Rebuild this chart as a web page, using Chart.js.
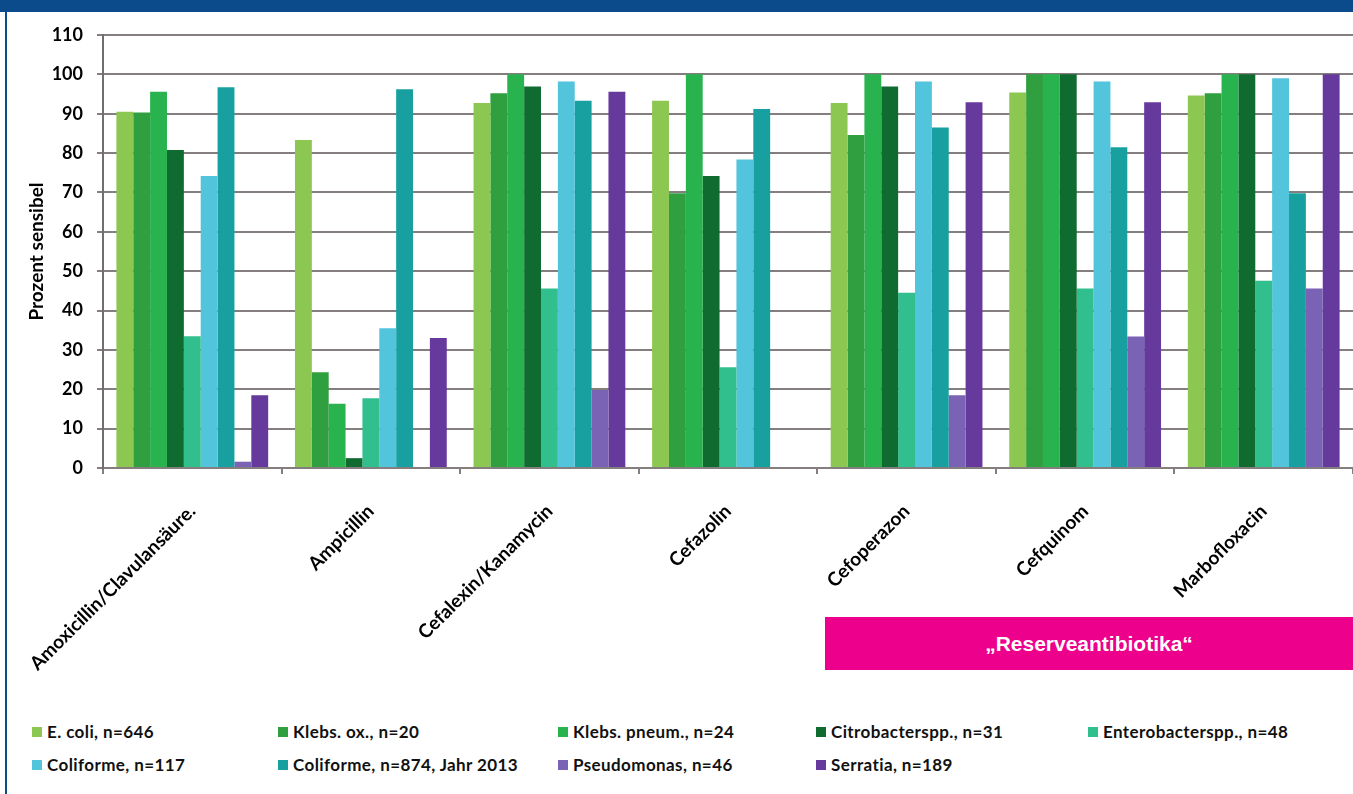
<!DOCTYPE html>
<html>
<head>
<meta charset="utf-8">
<script src="https://cdn.jsdelivr.net/npm/chart.js@4.4.0/dist/chart.umd.min.js"></script>
<style>
  body { margin: 0; width: 1353px; height: 794px; overflow: hidden; background: #fff; position: relative; font-family: Lato, sans-serif; }
  #band { position: absolute; left: 0; top: 0; width: 1353px; height: 12px; background: #0b4a8b; }
  #frame { position: absolute; left: 5px; top: 0; width: 2px; height: 794px; background: #0b4a8b; }
  #chart { position: absolute; left: 0; top: 0; }
  #reserve { position: absolute; left: 825px; top: 617px; width: 528px; height: 53px; background: #ec008c; color: #fff;
             font: bold 21px "Liberation Sans", Arial, sans-serif; display: flex; align-items: center; justify-content: center; }
  .leg { position: absolute; font: bold 17px Lato, sans-serif; letter-spacing: 0.4px; color: #111; white-space: nowrap; line-height: 20px; }
  .leg i { position: absolute; left: -15px; top: 5px; width: 10px; height: 10px; }
</style>
</head>
<body>
<div id="band"></div>
<div id="frame"></div>
<canvas id="chart" width="1353" height="690"></canvas>
<div id="reserve">„Reserveantibiotika“</div>
<div id="legend"></div>
<script>
const categories = ['Amoxicillin/Clavulansäure.', 'Ampicillin', 'Cefalexin/Kanamycin', 'Cefazolin',
    'Cefoperazon', 'Cefquinom', 'Marbofloxacin'];

const eColi        = [90.5, 83.3, 92.7, 93.3, 92.7, 95.4, 94.6];
const klebsOx      = [90.3, 24.3, 95.2, 69.8, 84.6, 100, 95.2];
const klebsPneum   = [95.6, 16.3, 100, 100, 100, 100, 100];
const citrobacter  = [80.8, 2.5, 96.9, 74.2, 96.9, 100, 100];
const enterobacter = [33.5, 17.7, 45.6, 25.6, 44.5, 45.6, 47.6];
const coliforme    = [74.2, 35.5, 98.2, 78.4, 98.2, 98.2, 99];
const coliforme13  = [96.7, 96.2, 93.3, 91.2, 86.5, 81.5, 69.8];
const pseudomonas  = [1.6, 0, 19.8, 0, 18.5, 33.4, 45.6];
const serratia     = [18.5, 33, 95.6, 0, 92.9, 92.9, 100];

const seriesNames = ['E. coli, n=646', 'Klebs. ox., n=20', 'Klebs. pneum., n=24', 'Citrobacterspp., n=31',
    'Enterobacterspp., n=48', 'Coliforme, n=117', 'Coliforme, n=874, Jahr 2013', 'Pseudomonas, n=46', 'Serratia, n=189'];
const seriesColors = ['#8cc751', '#2f9f3f', '#28b34f', '#0f6b30', '#31bf8e', '#52c4dc', '#17a09f', '#7a63b5', '#66399c'];
const seriesValues = [eColi, klebsOx, klebsPneum, citrobacter, enterobacter, coliforme, coliforme13, pseudomonas, serratia];

const yTicks = [0, 10, 20, 30, 40, 50, 60, 70, 80, 90, 100, 110];

// legend grid: 5 columns, two rows
const legendCols = [47, 293, 573, 831, 1103];
const legendRows = [722, 755];
const legendBox = document.getElementById('legend');
seriesNames.forEach(function(name, i) {
    const item = document.createElement('div');
    item.className = 'leg';
    item.style.left = legendCols[i % 5] + 'px';
    item.style.top = legendRows[Math.floor(i / 5)] + 'px';
    item.innerHTML = '<i style="background:' + seriesColors[i] + '"></i>' + name;
    legendBox.appendChild(item);
});

const gridGray = '#857e7e';

var ctx = document.getElementById('chart').getContext('2d');
var chart = new Chart(ctx, {
    type: 'bar',
    data: {
        labels: categories,
        datasets: seriesValues.map(function(values, i) {
            return {
                label: seriesNames[i],
                data: values,
                backgroundColor: seriesColors[i],
                borderWidth: 0,
                categoryPercentage: 0.85,
                barPercentage: 1.0
            };
        })
    },
    options: {
        responsive: false,
        animation: false,
        devicePixelRatio: 1,
        layout: { padding: { top: 35, left: 0, right: 0, bottom: 0 } },
        plugins: {
            legend: { display: false },
            tooltip: { enabled: false }
        },
        scales: {
            x: {
                afterFit: function(scale) { scale.height = 222; },
                grid: { display: true, drawOnChartArea: false, drawTicks: true, tickLength: 6, color: gridGray, lineWidth: 2, offset: true },
                border: { color: gridGray, width: 2 },
                ticks: { minRotation: 45, maxRotation: 45, autoSkip: false, padding: 26, color: '#000',
                         font: { family: 'Lato', weight: 'bold', size: 19 } }
            },
            y: {
                min: 0,
                max: 110,
                afterFit: function(scale) { scale.width = 103; },
                afterBuildTicks: function(scale) { scale.ticks = yTicks.map(function(v) { return { value: v }; }); },
                grid: { color: gridGray, lineWidth: 2, tickLength: 6 },
                border: { color: '#6f6f6f', width: 2 },
                ticks: { padding: 14, color: '#000', font: { family: 'Lato', weight: 'bold', size: 18 } },
                title: { display: true, text: 'Prozent sensibel', color: '#000',
                         font: { family: 'Lato', weight: 'bold', size: 19 }, padding: { top: 25, bottom: 0 } }
            }
        }
    }
});
</script>
</body>
</html>
